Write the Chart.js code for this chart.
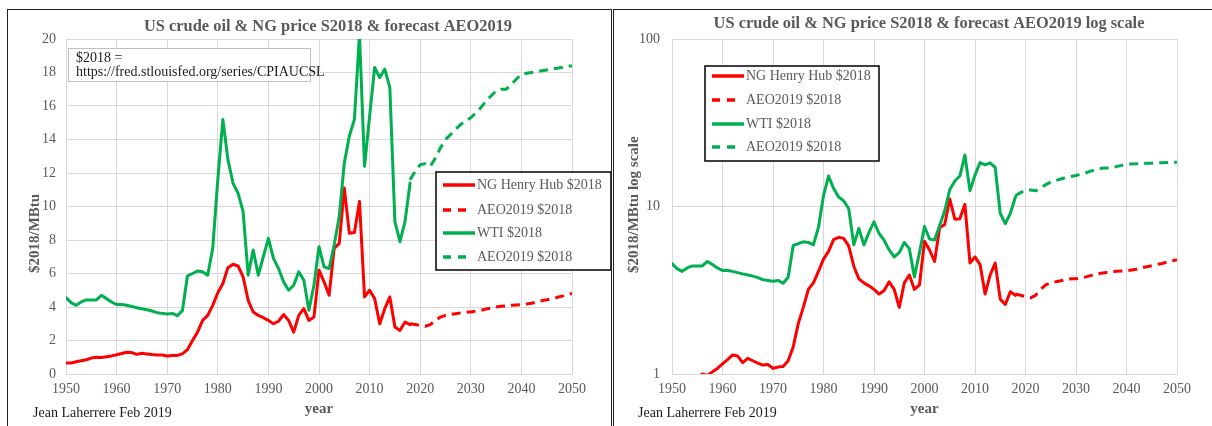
<!DOCTYPE html>
<html lang="en">
<head>
<meta charset="UTF-8">
<title>US crude oil & NG price S2018 & forecast AEO2019</title>
<script src="https://cdn.jsdelivr.net/npm/chart.js"></script>
<style>
    body { margin: 0; background: #fff; width: 1212px; height: 426px; overflow: hidden; position: relative; }
    .panel { position: absolute; top: 9px; border: 1px solid #222; border-bottom: none; }
    #panel-lin { left: 7px; width: 603px; height: 420px; }
    #panel-log { left: 613px; width: 610px; height: 420px; }
    canvas { display: block; }
</style>
</head>
<body>

<div class="panel" id="panel-lin"><canvas id="chart-lin" width="603" height="416"></canvas></div>
<div class="panel" id="panel-log"><canvas id="chart-log" width="598" height="416"></canvas></div>

<script>
// ---- data ($2018/MBtu) ----
const histYears = Array.from({ length: 69 }, (_, i) => 1950 + i);   // 1950..2018
const fcstYears = Array.from({ length: 33 }, (_, i) => 2018 + i);   // 2018..2050

const ngHist = [
    0.65, 0.66, 0.73, 0.79, 0.85, 0.95, 1.0, 0.98, 1.03, 1.08,
    1.15, 1.22, 1.3, 1.28, 1.17, 1.24, 1.2, 1.16, 1.13, 1.14,
    1.08, 1.1, 1.11, 1.2, 1.45, 2.0, 2.5, 3.2, 3.5, 4.1,
    4.85, 5.4, 6.35, 6.55, 6.45, 5.8, 4.4, 3.7, 3.5, 3.36,
    3.2, 3.0, 3.15, 3.55, 3.2, 2.5, 3.5, 3.9, 3.2, 3.4,
    6.2, 5.5, 4.7, 7.5, 7.8, 11.1, 8.4, 8.45, 10.3, 4.6,
    5.0, 4.5, 3.0, 3.9, 4.6, 2.8, 2.6, 3.1, 2.95
];
const wtiHist = [
    4.56, 4.26, 4.1, 4.3, 4.42, 4.42, 4.42, 4.7, 4.5, 4.3,
    4.15, 4.15, 4.1, 4.03, 3.96, 3.9, 3.84, 3.76, 3.66, 3.62,
    3.58, 3.62, 3.48, 3.78, 5.85, 6.0, 6.15, 6.1, 5.9, 7.5,
    11.6, 15.2, 12.8, 11.4, 10.8, 9.7, 5.9, 7.4, 5.9, 7.0,
    8.1, 6.9, 6.3, 5.5, 5.0, 5.3, 6.1, 5.6, 3.8, 5.3,
    7.6, 6.4, 6.3, 7.7, 9.4, 12.6, 14.2, 15.2, 20.3, 12.4,
    15.4, 18.3, 17.7, 18.2, 17.1, 9.1, 7.9, 9.1, 11.4
];
const ngAeo = [
    3.0, 2.95, 2.9, 2.85, 2.95, 3.2, 3.4, 3.5, 3.55, 3.6,
    3.65, 3.7, 3.7, 3.76, 3.8, 3.88, 3.94, 4.0, 4.04, 4.06,
    4.1, 4.12, 4.14, 4.18, 4.22, 4.3, 4.37, 4.43, 4.5, 4.57,
    4.65, 4.73, 4.81
];
const wtiAeo = [
    11.6, 12.1, 12.5, 12.55, 12.4, 12.9, 13.5, 14.0, 14.3, 14.6,
    14.9, 15.1, 15.3, 15.6, 15.9, 16.3, 16.6, 16.9, 17.0, 17.0,
    17.3, 17.6, 17.9, 17.95, 18.0, 18.05, 18.1, 18.15, 18.2, 18.25,
    18.3, 18.35, 18.4
];
const legendLabels = ['NG Henry Hub $2018', 'AEO2019 $2018', 'WTI $2018', 'AEO2019 $2018'];
const logTicks = [1, 10, 100];

const RED = '#FF0000';
const GREEN = '#00B050';
const GREY = '#595959';
const GRID = '#D9D9D9';
const SERIF = '"Liberation Serif", "Times New Roman", serif';

Chart.defaults.font.family = SERIF;
Chart.defaults.color = GREY;

function pts(years, vals) {
    return years.map((y, i) => ({ x: y, y: vals[i] }));
}

function makeDatasets() {
    const base = { pointRadius: 0, borderWidth: 3, tension: 0, borderJoinStyle: 'round', fill: false };
    return [
        { ...base, label: legendLabels[0], data: pts(histYears, ngHist), borderColor: RED, order: 4, borderCapStyle: 'round' },
        { ...base, label: legendLabels[1], data: pts(fcstYears, ngAeo), borderColor: RED, order: 3, borderDash: [9, 6] },
        { ...base, label: legendLabels[2], data: pts(histYears, wtiHist), borderColor: GREEN, order: 2, borderCapStyle: 'round' },
        { ...base, label: legendLabels[3], data: pts(fcstYears, wtiAeo), borderColor: GREEN, order: 1, borderDash: [9, 6] }
    ];
}

// titles, note box, credit and legend drawn on the canvas
function annotations(cfg) {
    return {
        id: 'annotations',
        afterDraw(chart) {
            const ctx = chart.ctx;
            ctx.save();
            ctx.textBaseline = 'middle';

            ctx.fillStyle = GREY;
            ctx.font = 'bold 16.4px ' + SERIF;
            ctx.textAlign = 'center';
            ctx.fillText(cfg.title, cfg.titleX, cfg.titleY);

            ctx.font = 'bold 15px ' + SERIF;
            ctx.save();
            ctx.translate(cfg.yTitleX, cfg.yTitleBottom);
            ctx.rotate(-Math.PI / 2);
            ctx.textAlign = 'left';
            ctx.fillText(cfg.yTitle, 0, 0);
            ctx.restore();

            ctx.font = '14px ' + SERIF;
            ctx.fillStyle = '#1a1a1a';
            ctx.textAlign = 'left';
            ctx.fillText('Jean Laherrere Feb 2019', cfg.creditX, cfg.creditY);

            if (cfg.note) {
                const n = cfg.note;
                ctx.fillStyle = '#fff';
                ctx.fillRect(n.x, n.y, n.w, n.h);
                ctx.strokeStyle = '#BFBFBF';
                ctx.lineWidth = 1;
                ctx.strokeRect(n.x + 0.5, n.y + 0.5, n.w, n.h);
                ctx.fillStyle = '#1a1a1a';
                n.lines.forEach((t, i) => ctx.fillText(t, n.x + 8, n.y + 10 + i * 14));
            }

            const L = cfg.legend;
            ctx.fillStyle = '#fff';
            ctx.fillRect(L.x, L.y, L.w, L.h);
            ctx.strokeStyle = '#000';
            ctx.lineWidth = 1.5;
            ctx.strokeRect(L.x, L.y, L.w, L.h);
            chart.data.datasets.forEach((ds, i) => {
                const y = L.y + L.rows[i];
                const dashed = !!ds.borderDash;
                ctx.strokeStyle = ds.borderColor;
                ctx.lineWidth = 3.5;
                ctx.setLineDash(dashed ? [8, 7] : []);
                ctx.beginPath();
                ctx.moveTo(L.x + 7, y);
                ctx.lineTo(L.x + (dashed ? 33 : 39), y);
                ctx.stroke();
                ctx.setLineDash([]);
                ctx.fillStyle = GREY;
                ctx.font = '14px ' + SERIF;
                ctx.fillText(ds.label, L.x + 41, y);
            });
            ctx.restore();
        }
    };
}

function xScale() {
    return {
        type: 'linear', min: 1950, max: 2050,
        grid: { color: GRID, drawTicks: false },
        border: { color: GRID },
        ticks: { stepSize: 10, padding: 7, maxRotation: 0, font: { size: 14 }, color: GREY, callback: v => String(v) },
        title: { display: true, text: 'year', color: GREY, font: { size: 15, weight: 'bold' }, padding: { top: 0, bottom: 8 } },
        afterFit(s) { s.height = 52; }
    };
}

new Chart(document.getElementById('chart-lin'), {
    type: 'line',
    data: { datasets: makeDatasets() },
    options: {
        responsive: false,
        animation: false,
        layout: { padding: { top: 29, right: 39, left: 0, bottom: 0 } },
        plugins: { legend: { display: false }, title: { display: false }, tooltip: { enabled: false } },
        scales: {
            x: xScale(),
            y: {
                min: 0, max: 20,
                grid: { color: GRID, drawTicks: false },
                border: { color: GRID },
                ticks: { stepSize: 2, padding: 10, font: { size: 14 }, color: GREY },
                afterFit(s) { s.width = 58; }
            }
        }
    },
    plugins: [annotations({
        title: 'US crude oil & NG price S2018 & forecast AEO2019', titleX: 320, titleY: 17,
        yTitle: '$2018/MBtu', yTitleX: 27, yTitleBottom: 263,
        creditX: 25, creditY: 403,
        note: { x: 60, y: 38, w: 242, h: 33, lines: ['$2018 =', 'https://fred.stlouisfed.org/series/CPIAUCSL'] },
        legend: { x: 428, y: 162, w: 175, h: 98, rows: [13, 38, 61, 85] }
    })]
});

new Chart(document.getElementById('chart-log'), {
    type: 'line',
    data: { datasets: makeDatasets() },
    options: {
        responsive: false,
        animation: false,
        layout: { padding: { top: 29, right: 35, left: 0, bottom: 0 } },
        plugins: { legend: { display: false }, title: { display: false }, tooltip: { enabled: false } },
        scales: {
            x: xScale(),
            y: {
                type: 'logarithmic', min: 1, max: 100,
                grid: { color: GRID, drawTicks: false },
                border: { color: GRID },
                ticks: { padding: 12, font: { size: 14 }, color: GREY, callback: v => String(v) },
                afterBuildTicks(s) { s.ticks = logTicks.map(v => ({ value: v })); },
                afterFit(s) { s.width = 58; }
            }
        }
    },
    plugins: [annotations({
        title: 'US crude oil & NG price S2018 & forecast AEO2019 log scale', titleX: 315, titleY: 14,
        yTitle: '$2018/MBtu log scale', yTitleX: 20, yTitleBottom: 263,
        creditX: 24, creditY: 403,
        legend: { x: 91, y: 56, w: 174, h: 95, rows: [10, 34, 58, 81] }
    })]
});
</script>
</body>
</html>
